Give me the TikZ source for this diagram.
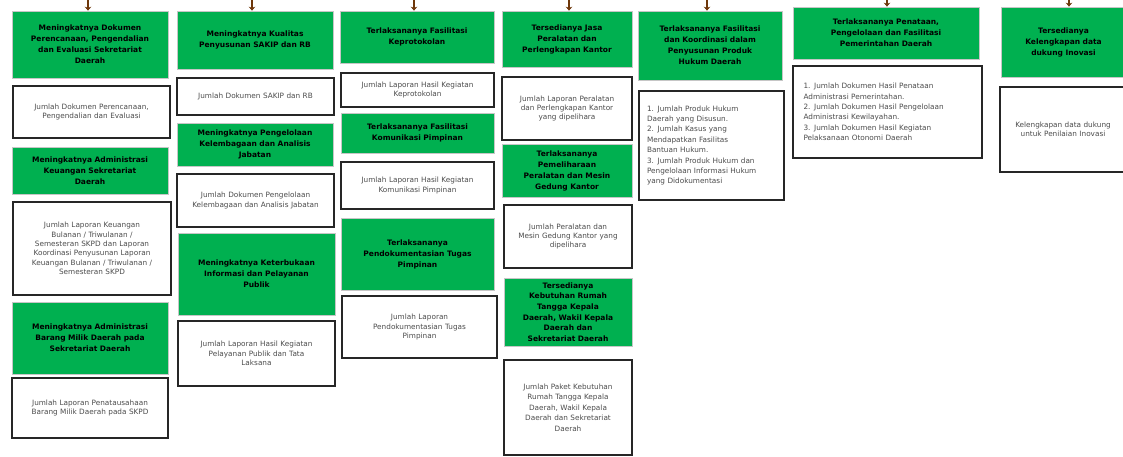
\documentclass[tikz,border=0pt]{standalone}
\usepackage{fontspec}
\setmainfont{DejaVu Sans}
\newfontfamily\goalfont{DejaVu Sans}[WordSpace=1.6]
\newfontfamily\indfont{DejaVu Sans}[WordSpace=1.4]
\usetikzlibrary{arrows.meta, positioning, calc}
\usepackage{xcolor}

\definecolor{goalgreen}{RGB}{0,176,80}
\definecolor{arrowbrown}{RGB}{110,55,10}

\tikzset{
  goal/.style={draw=gray!45, line width=0.6pt, fill=goalgreen, align=center,
    inner sep=0pt, font=\goalfont\fontsize{7.5}{11}\selectfont\bfseries},
  ind/.style={draw=black!85, line width=1.4pt, fill=white, align=center,
    inner sep=0pt, text=black!70, font=\indfont\fontsize{7.3}{9.4}\selectfont},
  indlist/.style={ind, align=left, font=\indfont\fontsize{7.3}{10.4}\selectfont},
  flow/.style={->, draw=arrowbrown, line width=2.4pt}
}

\begin{document}
\begin{tikzpicture}[x=1pt, y=-1pt, >={Stealth[length=4pt,width=6.5pt]}]
    \useasboundingbox (0,0) rectangle (1123,457);

    % column 1
    \node[goal, minimum width=156pt, minimum height=67pt, text width=150pt] (g1a) at (90,44.5)
      {Meningkatnya Dokumen\\ Perencanaan, Pengendalian\\ dan Evaluasi Sekretariat\\ Daerah};
    \node[ind, minimum width=157pt, minimum height=52pt, text width=150pt] (i1a) at (91.5,112)
      {Jumlah Dokumen Perencanaan,\\ Pengendalian dan Evaluasi};
    \node[goal, minimum width=156pt, minimum height=47pt, text width=150pt] (g1b) at (90,170.5)
      {Meningkatnya Administrasi\\ Keuangan Sekretariat\\ Daerah};
    \node[ind, minimum width=158pt, minimum height=93pt, text width=150pt] (i1b) at (92,248.5)
      {Jumlah Laporan Keuangan\\ Bulanan / Triwulanan /\\ Semesteran SKPD dan Laporan\\ Koordinasi Penyusunan Laporan\\ Keuangan Bulanan / Triwulanan /\\ Semesteran SKPD};
    \node[goal, minimum width=156pt, minimum height=72pt, text width=150pt] (g1c) at (90,338)
      {Meningkatnya Administrasi\\ Barang Milik Daerah pada\\ Sekretariat Daerah};
    \node[ind, minimum width=156pt, minimum height=60pt, text width=150pt] (i1c) at (90,408)
      {Jumlah Laporan Penatausahaan\\ Barang Milik Daerah pada SKPD};

    % column 2
    \node[goal, minimum width=156pt, minimum height=58pt, text width=150pt] (g2a) at (255,40)
      {Meningkatnya Kualitas\\ Penyusunan SAKIP dan RB};
    \node[ind, minimum width=157pt, minimum height=37pt, text width=150pt] (i2a) at (255.5,96.5)
      {Jumlah Dokumen SAKIP dan RB};
    \node[goal, minimum width=156pt, minimum height=43pt, text width=150pt] (g2b) at (255,144.5)
      {Meningkatnya Pengelolaan\\ Kelembagaan dan Analisis\\ Jabatan};
    \node[ind, minimum width=157pt, minimum height=53pt, text width=150pt] (i2b) at (255.5,200.5)
      {Jumlah Dokumen Pengelolaan\\ Kelembagaan dan Analisis Jabatan};
    \node[goal, minimum width=157pt, minimum height=82pt, text width=150pt] (g2c) at (256.5,274)
      {Meningkatnya Keterbukaan\\ Informasi dan Pelayanan\\ Publik};
    \node[ind, minimum width=157pt, minimum height=65pt, text width=150pt] (i2c) at (256.5,353.5)
      {Jumlah Laporan Hasil Kegiatan\\ Pelayanan Publik dan Tata\\ Laksana};

    % column 3
    \node[goal, minimum width=154pt, minimum height=52pt, text width=148pt] (g3a) at (417,37)
      {Terlaksananya Fasilitasi\\ Keprotokolan};
    \node[ind, minimum width=153pt, minimum height=34pt, text width=148pt] (i3a) at (417.5,90)
      {Jumlah Laporan Hasil Kegiatan\\ Keprotokolan};
    \node[goal, minimum width=153pt, minimum height=40pt, text width=148pt] (g3b) at (417.5,133)
      {Terlaksananya Fasilitasi\\ Komunikasi Pimpinan};
    \node[ind, minimum width=153pt, minimum height=47pt, text width=148pt] (i3b) at (417.5,185.5)
      {Jumlah Laporan Hasil Kegiatan\\ Komunikasi Pimpinan};
    \node[goal, minimum width=153pt, minimum height=72pt, text width=148pt] (g3c) at (417.5,254)
      {Terlaksananya\\ Pendokumentasian Tugas\\ Pimpinan};
    \node[ind, minimum width=155pt, minimum height=62pt, text width=148pt] (i3c) at (419.5,327)
      {Jumlah Laporan\\ Pendokumentasian Tugas\\ Pimpinan};

    % column 4
    \node[goal, minimum width=130pt, minimum height=56pt, text width=126pt] (g4a) at (567,39)
      {Tersedianya Jasa\\ Peralatan dan\\ Perlengkapan Kantor};
    \node[ind, minimum width=130pt, minimum height=63pt, text width=126pt] (i4a) at (567,108.5)
      {Jumlah Laporan Peralatan\\ dan Perlengkapan Kantor\\ yang dipelihara};
    \node[goal, minimum width=130pt, minimum height=53pt, text width=126pt] (g4b) at (567,170.5)
      {Terlaksananya\\ Pemeliharaan\\ Peralatan dan Mesin\\ Gedung Kantor};
    \node[ind, minimum width=128pt, minimum height=63pt, text width=124pt] (i4b) at (568,236.5)
      {Jumlah Peralatan dan\\ Mesin Gedung Kantor yang\\ dipelihara};
    \node[goal, minimum width=128pt, minimum height=68pt, text width=124pt, font=\goalfont\fontsize{7.5}{10.6}\selectfont\bfseries] (g4c) at (568,312)
      {Tersedianya\\ Kebutuhan Rumah\\ Tangga Kepala\\ Daerah, Wakil Kepala\\ Daerah dan\\ Sekretariat Daerah};
    \node[ind, minimum width=128pt, minimum height=95pt, text width=124pt, font=\indfont\fontsize{7.3}{10.4}\selectfont] (i4c) at (568,407.5)
      {Jumlah Paket Kebutuhan\\ Rumah Tangga Kepala\\ Daerah, Wakil Kepala\\ Daerah dan Sekretariat\\ Daerah};

    % column 5
    \node[goal, minimum width=144pt, minimum height=69pt, text width=140pt] (g5a) at (710,45.5)
      {Terlaksananya Fasilitasi\\ dan Koordinasi dalam\\ Penyusunan Produk\\ Hukum Daerah};
    \node[indlist, minimum width=145pt, minimum height=109pt, text width=129pt] (i5a) at (711.5,145.5)
      {1. Jumlah Produk Hukum\\ Daerah yang Disusun.\\
       2. Jumlah Kasus yang\\ Mendapatkan Fasilitas\\ Bantuan Hukum.\\
       3. Jumlah Produk Hukum dan\\ Pengelolaan Informasi Hukum\\ yang Didokumentasi};

    % column 6
    \node[goal, minimum width=186pt, minimum height=52pt, text width=180pt] (g6a) at (886,33)
      {Terlaksananya Penataan,\\ Pengelolaan dan Fasilitasi\\ Pemerintahan Daerah};
    \node[indlist, minimum width=189pt, minimum height=92pt, text width=168pt] (i6a) at (887.5,112)
      {1. Jumlah Dokumen Hasil Penataan\\ Administrasi Pemerintahan.\\
       2. Jumlah Dokumen Hasil Pengelolaan\\ Administrasi Kewilayahan.\\
       3. Jumlah Dokumen Hasil Kegiatan\\ Pelaksanaan Otonomi Daerah};

    % column 7
    \node[goal, minimum width=125pt, minimum height=70pt, text width=118pt] (g7a) at (1063.5,42)
      {Tersedianya\\ Kelengkapan data\\ dukung Inovasi};
    \node[ind, minimum width=126pt, minimum height=85pt, text width=118pt] (i7a) at (1063,129.5)
      {Kelengkapan data dukung\\ untuk Penilaian Inovasi};

    % arrows from above
    \coordinate (a1) at (88,-2);
    \coordinate (a2) at (252,-2);
    \coordinate (a3) at (414,-2);
    \coordinate (a4) at (569,-2);
    \coordinate (a5) at (707,-2);
    \coordinate (a6) at (887,-2);
    \coordinate (a7) at (1069,-2);
    \draw[flow] (a1) -- (a1 |- g1a.north);
    \draw[flow] (a2) -- (a2 |- g2a.north);
    \draw[flow] (a3) -- (a3 |- g3a.north);
    \draw[flow] (a4) -- (a4 |- g4a.north);
    \draw[flow] (a5) -- (a5 |- g5a.north);
    \draw[flow] (a6) -- (a6 |- g6a.north);
    \draw[flow] (a7) -- (a7 |- g7a.north);
\end{tikzpicture}
\end{document}
